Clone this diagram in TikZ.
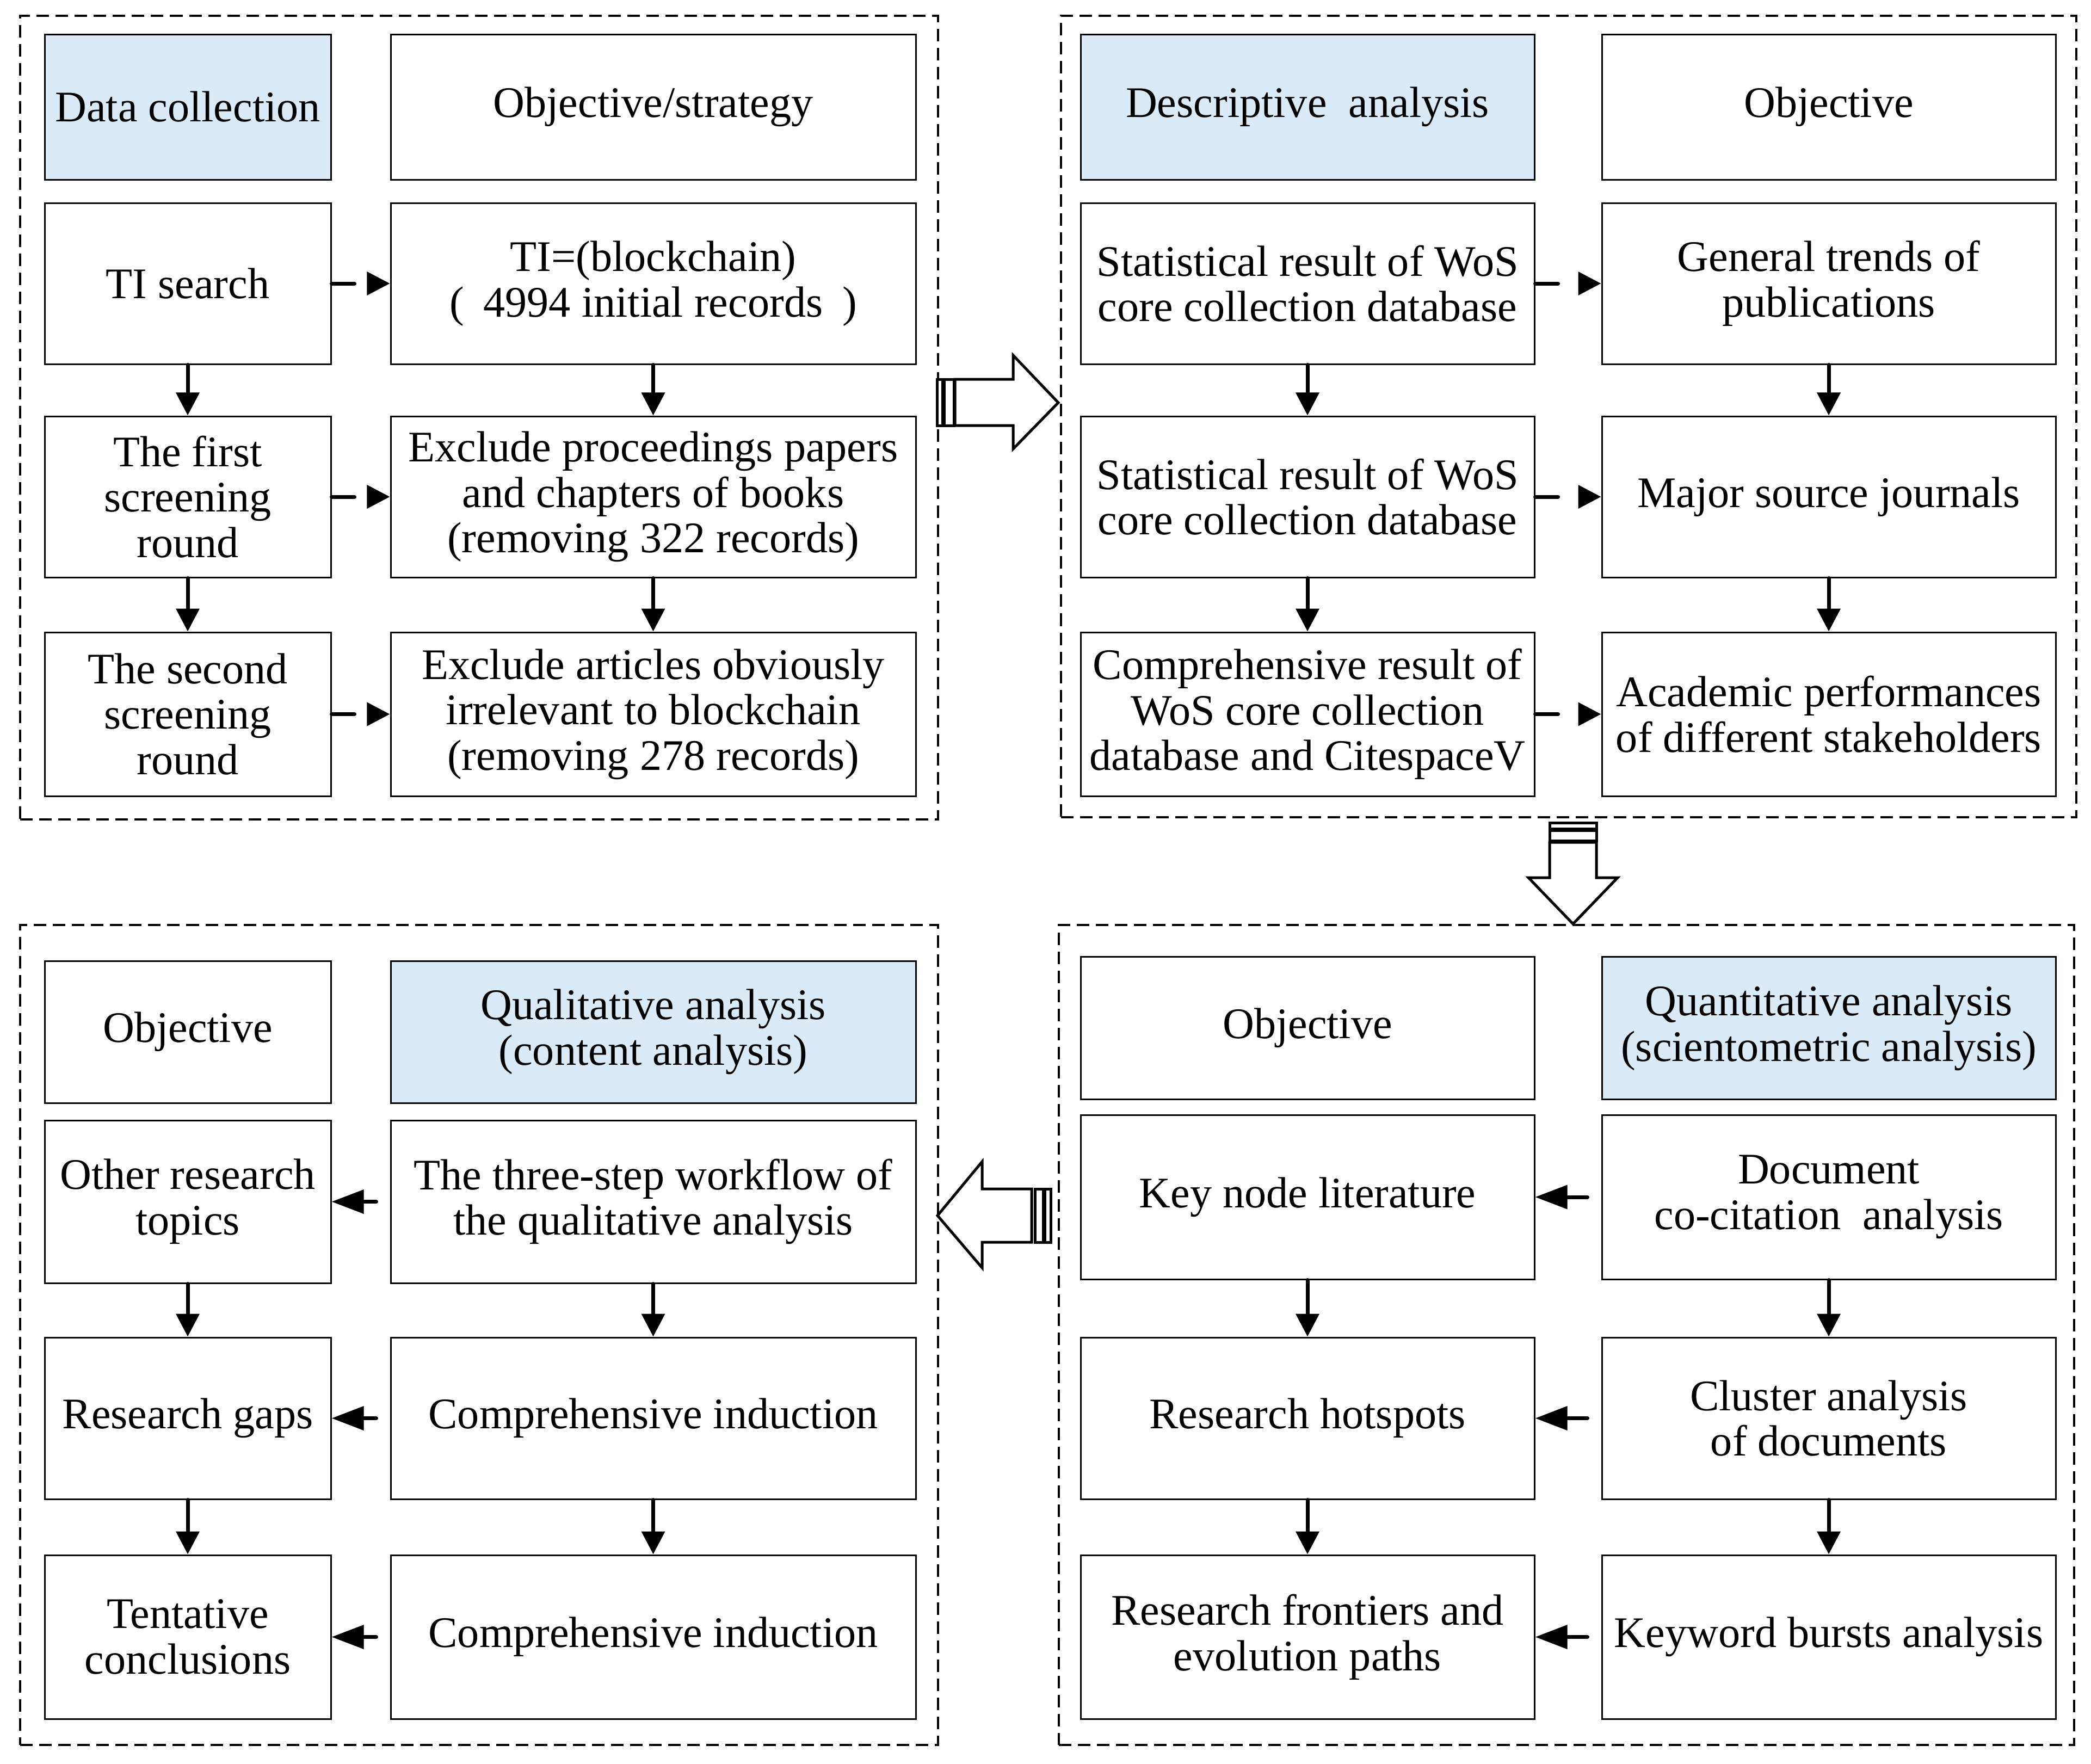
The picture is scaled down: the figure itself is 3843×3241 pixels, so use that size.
\documentclass[tikz,border=0pt]{standalone}
\usepackage{fontspec}
\setmainfont{Liberation Serif}
\usetikzlibrary{arrows.meta}
\definecolor{hdblue}{RGB}{218,235,247}
\newcommand\bx[7]{\node[#6, minimum width={(#4-#2)*0.01cm}, minimum height={(#5-#3)*0.01cm}] (#1) at ({(#2+#4)/2},{(#3+#5)/2}) {#7};}
\tikzset{
  box/.style={draw, line width=0.03cm, fill=white, align=center, inner sep=0pt,
    font=\fontsize{22.8}{23.8}\selectfont},
  hbox/.style={box, fill=hdblue},
  panel/.style={draw, line width=0.045cm, dash pattern=on 0.23cm off 0.12cm, inner sep=0pt},
  darr/.style={line width=0.07cm, line cap=round, -{Triangle[length=0.42cm,width=0.42cm]}},
  rarr/.style={darr, dash pattern=on 0.42cm off 1cm},
  larr/.style={line width=0.07cm, line cap=round, shorten <=0.25cm, -{Triangle[length=0.59cm,width=0.43cm]}},
  bigarr/.style={draw, line width=0.05cm, fill=white, line join=miter}
}
\begin{document}
\begin{tikzpicture}[x=0.01cm,y=-0.01cm]
\useasboundingbox (0,0) rectangle (3843,3241);
% panels
\bx{pTL}{37}{29}{1724}{1506}{panel}{}
\bx{pTR}{1950}{29}{3816}{1502}{panel}{}
\bx{pBL}{37}{1700}{1724}{3207}{panel}{}
\bx{pBR}{1946}{1700}{3812}{3207}{panel}{}
% top-left
\bx{a0}{82}{63}{608}{330}{hbox}{Data collection}
\bx{b0}{718}{63}{1683}{330}{box}{Objective/strategy}
\bx{a1}{82}{373}{608}{669}{box}{TI search}
\bx{b1}{718}{373}{1683}{669}{box}{TI=(blockchain)\\(\hspace{0.45em}4994 initial records\hspace{0.45em})}
\bx{a2}{82}{765}{608}{1061}{box}{The first\\screening\\round}
\bx{b2}{718}{765}{1683}{1061}{box}{Exclude proceedings papers\\and chapters of books\\(removing 322 records)}
\bx{a3}{82}{1162}{608}{1463}{box}{The second\\screening\\round}
\bx{b3}{718}{1162}{1683}{1463}{box}{Exclude articles obviously\\irrelevant to blockchain\\(removing 278 records)}
% top-right
\bx{c0}{1986}{63}{2820}{330}{hbox}{Descriptive\ \ analysis}
\bx{d0}{2944}{63}{3778}{330}{box}{Objective}
\bx{c1}{1986}{373}{2820}{669}{box}{Statistical result of WoS\\core collection database}
\bx{d1}{2944}{373}{3778}{669}{box}{General trends of\\publications}
\bx{c2}{1986}{765}{2820}{1061}{box}{Statistical result of WoS\\core collection database}
\bx{d2}{2944}{765}{3778}{1061}{box}{Major source journals}
\bx{c3}{1986}{1162}{2820}{1463}{box}{Comprehensive result of\\WoS core collection\\database and CitespaceV}
\bx{d3}{2944}{1162}{3778}{1463}{box}{Academic performances\\of different stakeholders}
% bottom-right
\bx{e0}{1986}{1758}{2820}{2020}{box}{Objective}
\bx{f0}{2944}{1758}{3778}{2020}{hbox}{Quantitative analysis\\(scientometric analysis)}
\bx{e1}{1986}{2049}{2820}{2351}{box}{Key node literature}
\bx{f1}{2944}{2049}{3778}{2351}{box}{Document\\co-citation\ \ analysis}
\bx{e2}{1986}{2458}{2820}{2755}{box}{Research hotspots}
\bx{f2}{2944}{2458}{3778}{2755}{box}{Cluster analysis\\of documents}
\bx{e3}{1986}{2858}{2820}{3159}{box}{Research frontiers and\\evolution paths}
\bx{f3}{2944}{2858}{3778}{3159}{box}{Keyword bursts analysis}
% bottom-left
\bx{g0}{82}{1766}{608}{2027}{box}{Objective}
\bx{h0}{718}{1766}{1683}{2027}{hbox}{Qualitative analysis\\(content analysis)}
\bx{g1}{82}{2059}{608}{2358}{box}{Other research\\topics}
\bx{h1}{718}{2059}{1683}{2358}{box}{The three-step workflow of\\the qualitative analysis}
\bx{g2}{82}{2458}{608}{2755}{box}{Research gaps}
\bx{h2}{718}{2458}{1683}{2755}{box}{Comprehensive induction}
\bx{g3}{82}{2858}{608}{3159}{box}{Tentative\\conclusions}
\bx{h3}{718}{2858}{1683}{3159}{box}{Comprehensive induction}
% connectors top-left
\draw[rarr] (a1.east) -- (b1.west);
\draw[rarr] (a2.east) -- (b2.west);
\draw[rarr] (a3.east) -- (b3.west);
\draw[darr] (a1.south) -- (a2.north);
\draw[darr] (a2.south) -- (a3.north);
\draw[darr] (b1.south) -- (b2.north);
\draw[darr] (b2.south) -- (b3.north);
% connectors top-right
\draw[rarr] (c1.east) -- (d1.west);
\draw[rarr] (c2.east) -- (d2.west);
\draw[rarr] (c3.east) -- (d3.west);
\draw[darr] (c1.south) -- (c2.north);
\draw[darr] (c2.south) -- (c3.north);
\draw[darr] (d1.south) -- (d2.north);
\draw[darr] (d2.south) -- (d3.north);
% connectors bottom-right
\draw[larr] (f1.west) -- (e1.east);
\draw[larr] (f2.west) -- (e2.east);
\draw[larr] (f3.west) -- (e3.east);
\draw[darr] (e1.south) -- (e2.north);
\draw[darr] (e2.south) -- (e3.north);
\draw[darr] (f1.south) -- (f2.north);
\draw[darr] (f2.south) -- (f3.north);
% connectors bottom-left
\draw[larr] (h1.west) -- (g1.east);
\draw[larr] (h2.west) -- (g2.east);
\draw[larr] (h3.west) -- (g3.east);
\draw[darr] (g1.south) -- (g2.north);
\draw[darr] (g2.south) -- (g3.north);
\draw[darr] (h1.south) -- (h2.north);
\draw[darr] (h2.south) -- (h3.north);
% big arrows between panels
\draw[bigarr] (1722,697) rectangle (1732,782);
\draw[bigarr] (1735,697) rectangle (1753,782);
\draw[bigarr] (1755,697) -- (1862,697) -- (1862,653) -- (1945,740) -- (1862,825) -- (1862,782) -- (1755,782) -- cycle;
\draw[bigarr] (2848,1512) rectangle (2934,1523);
\draw[bigarr] (2848,1526) rectangle (2934,1545);
\draw[bigarr] (2848,1548) -- (2848,1613) -- (2809,1613) -- (2891,1698) -- (2973,1613) -- (2934,1613) -- (2934,1548) -- cycle;
\draw[bigarr] (1920,2185) rectangle (1931,2283);
\draw[bigarr] (1902,2185) rectangle (1917,2283);
\draw[bigarr] (1896,2185) -- (1805,2185) -- (1805,2135) -- (1723,2234) -- (1805,2330) -- (1805,2283) -- (1896,2283) -- cycle;
\end{tikzpicture}
\end{document}
